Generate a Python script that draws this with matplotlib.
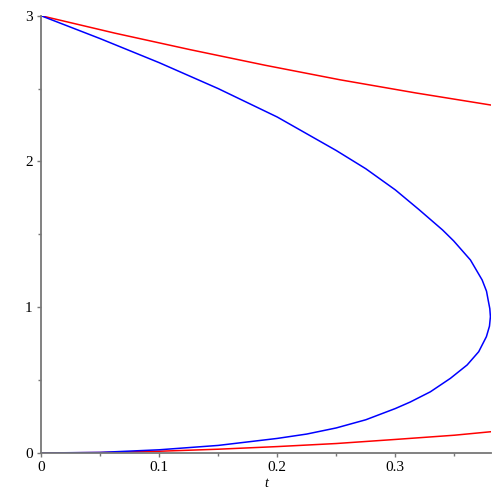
import matplotlib
matplotlib.use("Agg")
import matplotlib.pyplot as plt

# blue curve: upper branch going down to the turning point
blue_up_t = [0, 0.05, 0.1, 0.15, 0.2, 0.25, 0.275, 0.3, 0.32, 0.34, 0.3494,
             0.3636, 0.3735, 0.3772, 0.3786, 0.3800, 0.3805]
blue_up_y = [3, 2.843, 2.678, 2.500, 2.305, 2.075, 1.950, 1.805, 1.670, 1.530, 1.455,
             1.324, 1.187, 1.110, 1.049, 0.990, 0.935]
# lower branch, from the turning point back to the origin
blue_lo_t = [0.3805, 0.3797, 0.3771, 0.3706, 0.3608, 0.3466, 0.3297, 0.3127, 0.3,
             0.275, 0.25, 0.225, 0.2, 0.15, 0.1, 0.05, 0]
blue_lo_y = [0.935, 0.870, 0.798, 0.695, 0.604, 0.512, 0.420, 0.350, 0.305,
             0.228, 0.172, 0.130, 0.100, 0.052, 0.022, 0.004, 0]

# red curves
red_top_t = [0, 0.0627, 0.1263, 0.1898, 0.2534, 0.3174, 0.381]
red_top_y = [3, 2.880, 2.767, 2.660, 2.560, 2.470, 2.387]
red_bot_t = [0, 0.05, 0.1, 0.15, 0.2, 0.25, 0.3, 0.35, 0.381]
red_bot_y = [0, 0.003, 0.012, 0.026, 0.044, 0.065, 0.093, 0.122, 0.146]

xticks = [0, 0.1, 0.2, 0.3]
yticks = [0, 1, 2, 3]

plt.rcParams['font.family'] = ['Liberation Serif', 'DejaVu Serif']

fig = plt.figure(figsize=(5, 5), dpi=100)
ax = fig.add_axes([0.082, 0.094, 0.9, 0.8746])

ax.plot(red_top_t, red_top_y, color='#ff0000', lw=1.1)
ax.plot(red_bot_t, red_bot_y, color='#ff0000', lw=1.1)
ax.plot(blue_up_t + blue_lo_t, blue_up_y + blue_lo_y, color='#0000ff', lw=1.1)

ax.set_xlim(0, 0.381)
ax.set_ylim(0, 3)
ax.set_xticks(xticks)
ax.set_xticklabels(['0', '0.1', '0.2', '0.3'])
ax.set_yticks(yticks)
ax.set_yticklabels(['0', '1', '2', '3'])
ax.set_xticks([0.05, 0.15, 0.25, 0.35], minor=True)
ax.set_yticks([0.5, 1.5, 2.5], minor=True)

for s in ['top', 'right']:
    ax.spines[s].set_visible(False)
for s in ['left', 'bottom']:
    ax.spines[s].set_color('#777777')
    ax.spines[s].set_linewidth(1.3)
ax.tick_params(which='major', length=3, width=1, color='#777777', labelsize=11, pad=3)
ax.tick_params(which='minor', length=2, width=1, color='#777777')

ax.set_xlabel('t', fontstyle='italic', fontsize=10, labelpad=2)

fig.savefig('out.png')
